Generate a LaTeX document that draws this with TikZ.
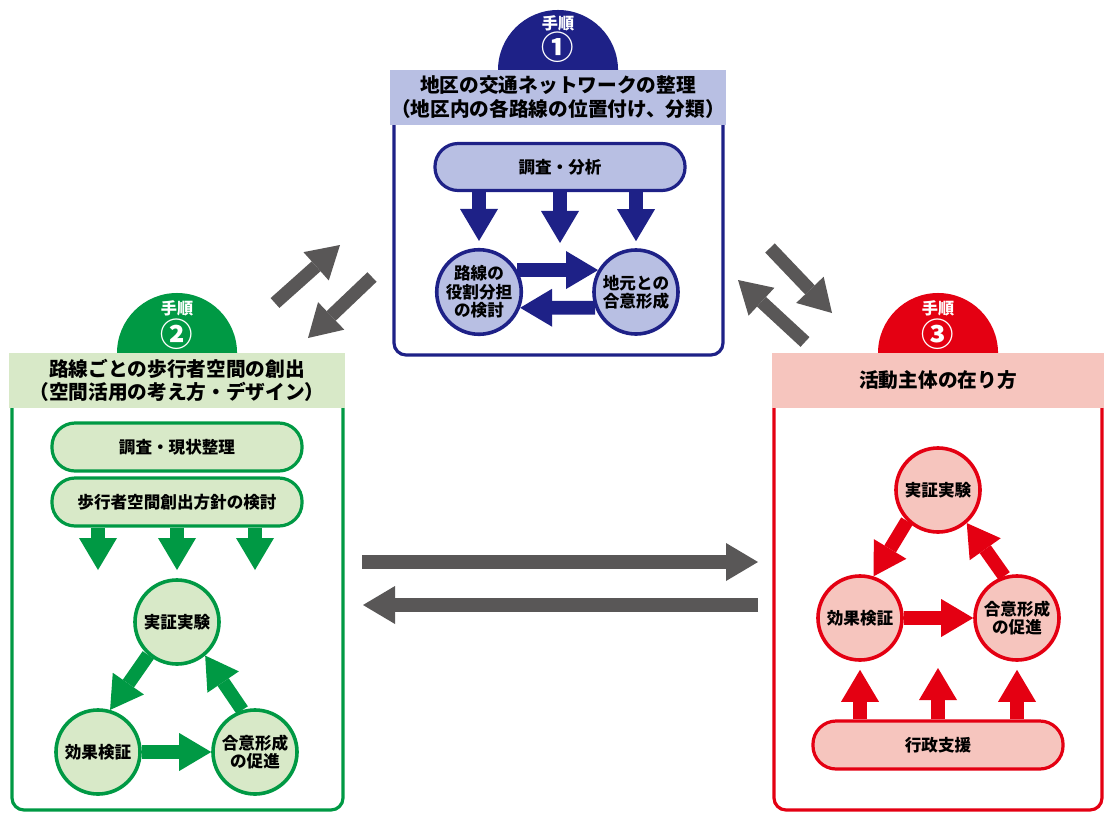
\documentclass[tikz,border=0pt]{standalone}
\usepackage{fontspec}
\setmainfont{Noto Sans CJK JP}
\usetikzlibrary{arrows.meta}
\definecolor{c1}{RGB}{30,33,135}
\definecolor{c1l}{RGB}{184,191,227}
\definecolor{c2}{RGB}{0,153,68}
\definecolor{c2l}{RGB}{216,233,200}
\definecolor{c3}{RGB}{228,0,18}
\definecolor{c3l}{RGB}{246,197,190}
\definecolor{cg}{RGB}{89,87,87}
\tikzset{
 jp/.style={font=\bfseries\fontsize{11.8}{13}\selectfont, align=center, text=black},
 pill/.style={jp, draw=c#1, fill=c#1l, line width=0.08cm, rounded corners=0.58cm, minimum width=6.25cm, minimum height=1.2cm, inner sep=0pt},
 circ/.style={jp, circle, draw=c#1, fill=c#1l, line width=0.09cm, minimum size=2.1cm, inner sep=0pt},
 flow/.style={draw=c#1, line width=0.34cm, -{Triangle[width=0.95cm,length=0.8cm,line width=0pt]}},
 band/.style={fill=c#1l},
 frame/.style={draw=c#1, line width=0.08cm, rounded corners=0.3cm},
 tab/.style={fill=c#1},
 tabtxt/.style={font=\bfseries\fontsize{11.5}{12}\selectfont, text=white, inner sep=0pt},
 tabnum/.style={font=\bfseries\fontsize{23}{24}\selectfont, text=white, inner sep=0pt},
 head/.style={font=\bfseries\fontsize{14}{16.5}\selectfont, align=center, text=black},
}
\begin{document}
\begin{tikzpicture}[x=0.025cm,y=-0.025cm]
\useasboundingbox (0,0) rectangle (1104,816);
% ---------- Box 1 ----------
\fill[tab=1] (498,70) arc[start angle=180,end angle=0,radius=1.5cm];
\node[tabtxt] (t1a) at (558,23) {手順};
\node[tabnum] (t1b) at (558,47) {①};
\fill[band=1] (390,70) rectangle (726,125);
\draw[frame=1] (394,125) -- (394,355) -- (723,355) -- (723,125);
\node[head] (h1) at (558,97) {地区の交通ネットワークの整理\\（地区内の各路線の位置付け、分類）};
\node[pill=1, minimum height=1.175cm] (p1) at (560,167) {調査・分析};
\node[circ=1] (l1) at (479,292) {路線の\\役割分担\\の検討};
\node[circ=1] (r1) at (636,292) {地元との\\合意形成};
\coordinate (m1) at (560,243);
\draw[flow=1] (p1.south -| l1) -- ([yshift=0.175cm]l1.north);
\draw[flow=1] (p1.south) -- (m1);
\draw[flow=1] (p1.south -| r1) -- ([yshift=0.175cm]r1.north);
\draw[flow=1] (l1.30) -- (r1.150);
\draw[flow=1] (r1.201) -- (l1.-21);
% ---------- Box 2 ----------
\fill[tab=2] (117,353) arc[start angle=180,end angle=0,radius=1.5cm];
\node[tabtxt] (t2a) at (177,308) {手順};
\node[tabnum] (t2b) at (177,334) {②};
\fill[band=2] (9,353) rectangle (345,408);
\draw[frame=2] (12,408) -- (12,810) -- (343,810) -- (343,408);
\node[head] (h2) at (177,380) {路線ごとの歩行者空間の創出\\（空間活用の考え方・デザイン）};
\node[pill=2] (p2a) at (177,447) {調査・現状整理};
\node[pill=2] (p2b) at (177,502) {歩行者空間創出方針の検討};
\coordinate (d2a) at (98,570);
\coordinate (d2b) at (177,570);
\coordinate (d2c) at (255,570);
\draw[flow=2] (p2b.south -| d2a) -- (d2a);
\draw[flow=2] (p2b.south) -- (d2b);
\draw[flow=2] (p2b.south -| d2c) -- (d2c);
\node[circ=2] (tc2) at (177,622) {実証実験};
\node[circ=2] (bl2) at (98,752) {効果検証};
\node[circ=2] (br2) at (255,752) {合意形成\\の促進};
\draw[flow=2] (tc2.229) -- (bl2.74);
\draw[flow=2] (bl2) -- (br2);
\draw[flow=2] (br2.107) -- (tc2.310);
% ---------- Box 3 ----------
\fill[tab=3] (878,353) arc[start angle=180,end angle=0,radius=1.5cm];
\node[tabtxt] (t3a) at (938,308) {手順};
\node[tabnum] (t3b) at (938,334) {③};
\fill[band=3] (772,353) rectangle (1104,408);
\draw[frame=3] (774,408) -- (774,810) -- (1102,810) -- (1102,408);
\node[head] (h3) at (938,380) {活動主体の在り方};
\node[circ=3] (tc3) at (938,490) {実証実験};
\node[circ=3] (bl3) at (860,618) {効果検証};
\node[circ=3] (br3) at (1017,618) {合意形成\\の促進};
\node[pill=3] (p3) at (938,745) {行政支援};
\draw[flow=3] (tc3.225) -- (bl3.72);
\draw[flow=3] (bl3) -- (br3);
\draw[flow=3] (br3.107) -- (tc3.311);
\coordinate (u3) at (938,668);
\draw[flow=3] (p3.north -| bl3) -- ([yshift=-0.2cm]bl3.south);
\draw[flow=3] (p3.north) -- (u3);
\draw[flow=3] (p3.north -| br3) -- ([yshift=-0.2cm]br3.south);
% ---------- Gray arrows ----------
\coordinate (ga1) at (275,303); \coordinate (gb1) at (340,245);
\coordinate (ga2) at (372,277); \coordinate (gb2) at (308,338);
\coordinate (ga3) at (770,248); \coordinate (gb3) at (832,313);
\coordinate (ga4) at (805,342); \coordinate (gb4) at (738,280);
\coordinate (ga5) at (362,562); \coordinate (gb5) at (758,562);
\coordinate (ga6) at (758,605); \coordinate (gb6) at (363,605);
\foreach \i in {1,...,6} {\draw[draw=cg, line width=0.33cm, -{Triangle[width=0.95cm,length=0.8cm,line width=0pt]}] (ga\i) -- (gb\i);}
\end{tikzpicture}
\end{document}
